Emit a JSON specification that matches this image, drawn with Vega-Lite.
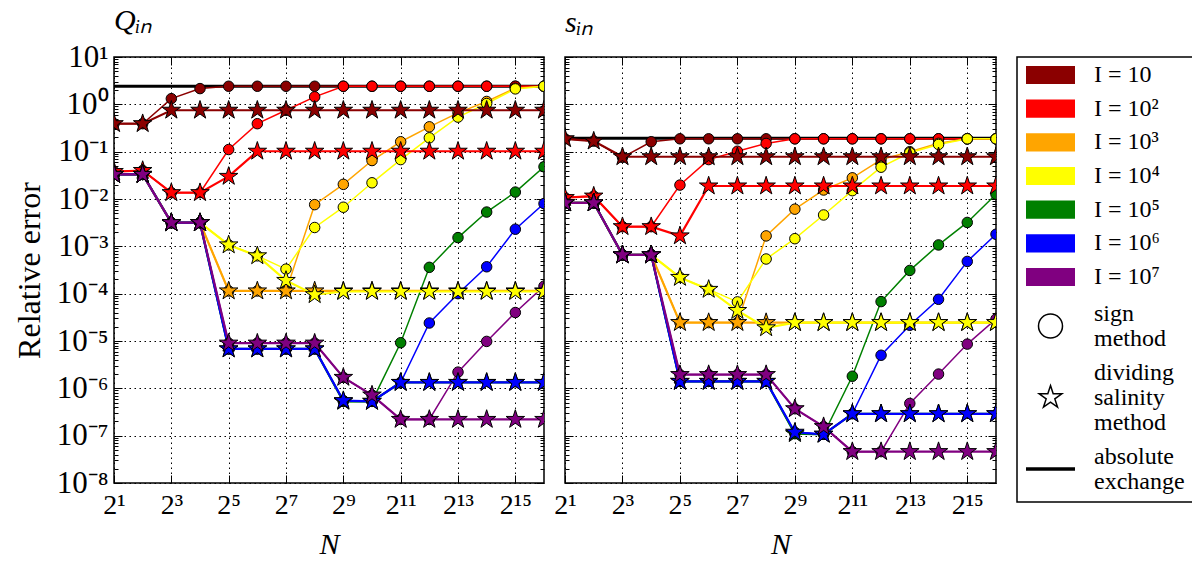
{
  "$schema": "https://vega.github.io/schema/vega-lite/v6.json",
  "padding": {"left": 12, "top": 5, "right": 0, "bottom": 5},
  "bounds": "flush",
  "spacing": 21,
  "resolve": {"scale": {"shape": "independent", "size": "independent", "strokeWidth": "independent"}},
  "config": {
    "font": "Liberation Serif",
    "view": {"stroke": "black", "strokeWidth": 1.5},
    "axis": {"labelFont": "Liberation Serif", "titleFont": "Liberation Serif", "labelColor": "black", "titleColor": "black", "titleFontWeight": "normal"}
  },
  "datasets": {
    "absx": [{"panel": "Q", "err": 2.41}, {"panel": "s", "err": 0.193}],
    "legend": [
      {"item": "I1", "label": "I = 10", "kind": "color"},
      {"item": "I2", "label": "I = 10²", "kind": "color"},
      {"item": "I3", "label": "I = 10³", "kind": "color"},
      {"item": "I4", "label": "I = 10⁴", "kind": "color"},
      {"item": "I5", "label": "I = 10⁵", "kind": "color"},
      {"item": "I6", "label": "I = 10⁶", "kind": "color"},
      {"item": "I7", "label": "I = 10⁷", "kind": "color"},
      {"item": "sign", "label": "sign\nmethod", "kind": "shape", "lines": 2},
      {"item": "dividing", "label": "dividing\nsalinity\nmethod", "kind": "shape", "lines": 3},
      {"item": "absx", "label": "absolute\nexchange", "kind": "line", "lines": 2}
    ],
    "err": [
      {"panel":"Q","method":"sign","N":2,"I1":0.39,"I2":0.038,"I3":0.033,"I4":0.033,"I5":0.033,"I6":0.033,"I7":0.033},
      {"panel":"Q","method":"sign","N":4,"I1":0.39,"I2":0.04,"I3":0.033,"I4":0.033,"I5":0.033,"I6":0.033,"I7":0.033},
      {"panel":"Q","method":"sign","N":8,"I1":1.32,"I2":0.0136,"I3":0.00316,"I4":0.00316,"I5":0.00316,"I6":0.00316,"I7":0.00316},
      {"panel":"Q","method":"sign","N":16,"I1":2.15,"I2":0.0136,"I3":0.00316,"I4":0.00316,"I5":0.00316,"I6":0.00316,"I7":0.00316},
      {"panel":"Q","method":"sign","N":32,"I1":2.41,"I2":0.111,"I3":0.000114,"I4":0.00107,"I5":6.8e-6,"I6":6.8e-6,"I7":9.0e-6},
      {"panel":"Q","method":"sign","N":64,"I1":2.41,"I2":0.39,"I3":0.000114,"I4":0.00063,"I5":6.8e-6,"I6":6.8e-6,"I7":9.0e-6},
      {"panel":"Q","method":"sign","N":128,"I1":2.41,"I2":0.75,"I3":0.000114,"I4":0.00033,"I5":6.8e-6,"I6":6.8e-6,"I7":9.0e-6},
      {"panel":"Q","method":"sign","N":256,"I1":2.41,"I2":1.44,"I3":0.0076,"I4":0.0025,"I5":6.8e-6,"I6":6.8e-6,"I7":9.0e-6},
      {"panel":"Q","method":"sign","N":512,"I1":2.41,"I2":2.41,"I3":0.0204,"I4":0.0067,"I5":5.3e-7,"I6":5.5e-7,"I7":1.7e-6},
      {"panel":"Q","method":"sign","N":1024,"I1":2.41,"I2":2.41,"I3":0.065,"I4":0.022,"I5":5.3e-7,"I6":5.3e-7,"I7":7.2e-7},
      {"panel":"Q","method":"sign","N":2048,"I1":2.41,"I2":2.41,"I3":0.162,"I4":0.068,"I5":9.2e-6,"I6":1.33e-6,"I7":2.2e-7},
      {"panel":"Q","method":"sign","N":4096,"I1":2.41,"I2":2.41,"I3":0.335,"I4":0.196,"I5":3.6e-4,"I6":2.4e-5,"I7":2.2e-7},
      {"panel":"Q","method":"sign","N":8192,"I1":2.41,"I2":2.41,"I3":0.66,"I4":0.537,"I5":1.53e-3,"I6":1.0e-4,"I7":2.2e-6},
      {"panel":"Q","method":"sign","N":16384,"I1":2.41,"I2":2.41,"I3":1.15,"I4":1.04,"I5":5.3e-3,"I6":3.7e-4,"I7":9.8e-6},
      {"panel":"Q","method":"sign","N":32768,"I1":2.41,"I2":2.41,"I3":2.2,"I4":2.12,"I5":0.014,"I6":2.3e-3,"I7":4.0e-5},
      {"panel":"Q","method":"sign","N":65536,"I1":2.41,"I2":2.41,"I3":2.41,"I4":2.41,"I5":0.048,"I6":8.0e-3,"I7":1.44e-4},
      {"panel":"Q","method":"dividing","N":2,"I1":0.39,"I2":0.038,"I3":0.033,"I4":0.033,"I5":0.033,"I6":0.033,"I7":0.033},
      {"panel":"Q","method":"dividing","N":4,"I1":0.39,"I2":0.04,"I3":0.033,"I4":0.033,"I5":0.033,"I6":0.033,"I7":0.033},
      {"panel":"Q","method":"dividing","N":8,"I1":0.75,"I2":0.0136,"I3":0.00316,"I4":0.00316,"I5":0.00316,"I6":0.00316,"I7":0.00316},
      {"panel":"Q","method":"dividing","N":16,"I1":0.75,"I2":0.0136,"I3":0.00316,"I4":0.00316,"I5":0.00316,"I6":0.00316,"I7":0.00316},
      {"panel":"Q","method":"dividing","N":32,"I1":0.75,"I2":0.03,"I3":0.000114,"I4":0.00107,"I5":6.8e-6,"I6":6.8e-6,"I7":9.0e-6},
      {"panel":"Q","method":"dividing","N":64,"I1":0.75,"I2":0.102,"I3":0.000114,"I4":0.00063,"I5":6.8e-6,"I6":6.8e-6,"I7":9.0e-6},
      {"panel":"Q","method":"dividing","N":128,"I1":0.75,"I2":0.102,"I3":0.000114,"I4":0.00019,"I5":6.8e-6,"I6":6.8e-6,"I7":9.0e-6},
      {"panel":"Q","method":"dividing","N":256,"I1":0.75,"I2":0.102,"I3":0.000114,"I4":0.000095,"I5":6.8e-6,"I6":6.8e-6,"I7":9.0e-6},
      {"panel":"Q","method":"dividing","N":512,"I1":0.75,"I2":0.102,"I3":0.000114,"I4":0.000111,"I5":5.3e-7,"I6":5.5e-7,"I7":1.7e-6},
      {"panel":"Q","method":"dividing","N":1024,"I1":0.75,"I2":0.102,"I3":0.000114,"I4":0.000111,"I5":5.3e-7,"I6":5.3e-7,"I7":7.2e-7},
      {"panel":"Q","method":"dividing","N":2048,"I1":0.75,"I2":0.102,"I3":0.000114,"I4":0.000111,"I5":1.33e-6,"I6":1.33e-6,"I7":2.2e-7},
      {"panel":"Q","method":"dividing","N":4096,"I1":0.75,"I2":0.102,"I3":0.000114,"I4":0.000111,"I5":1.33e-6,"I6":1.33e-6,"I7":2.2e-7},
      {"panel":"Q","method":"dividing","N":8192,"I1":0.75,"I2":0.102,"I3":0.000114,"I4":0.000111,"I5":1.33e-6,"I6":1.33e-6,"I7":2.2e-7},
      {"panel":"Q","method":"dividing","N":16384,"I1":0.75,"I2":0.102,"I3":0.000114,"I4":0.000111,"I5":1.33e-6,"I6":1.33e-6,"I7":2.2e-7},
      {"panel":"Q","method":"dividing","N":32768,"I1":0.75,"I2":0.102,"I3":0.000114,"I4":0.000111,"I5":1.33e-6,"I6":1.33e-6,"I7":2.2e-7},
      {"panel":"Q","method":"dividing","N":65536,"I1":0.75,"I2":0.102,"I3":0.000114,"I4":0.000111,"I5":1.33e-6,"I6":1.33e-6,"I7":2.2e-7},
      {"panel":"s","method":"sign","N":2,"I1":0.187,"I2":0.0107,"I3":0.0083,"I4":0.0083,"I5":0.0083,"I6":0.0083,"I7":0.0083},
      {"panel":"s","method":"sign","N":4,"I1":0.167,"I2":0.0115,"I3":0.0083,"I4":0.0083,"I5":0.0083,"I6":0.0083,"I7":0.0083},
      {"panel":"s","method":"sign","N":8,"I1":0.076,"I2":0.0026,"I3":0.00066,"I4":0.00066,"I5":0.00066,"I6":0.00066,"I7":0.00066},
      {"panel":"s","method":"sign","N":16,"I1":0.162,"I2":0.0026,"I3":0.00066,"I4":0.00066,"I5":0.00066,"I6":0.00066,"I7":0.00066},
      {"panel":"s","method":"sign","N":32,"I1":0.187,"I2":0.0197,"I3":2.45e-5,"I4":0.00022,"I5":1.4e-6,"I6":1.4e-6,"I7":1.95e-6},
      {"panel":"s","method":"sign","N":64,"I1":0.187,"I2":0.068,"I3":2.45e-5,"I4":0.000123,"I5":1.4e-6,"I6":1.4e-6,"I7":1.95e-6},
      {"panel":"s","method":"sign","N":128,"I1":0.187,"I2":0.102,"I3":2.45e-5,"I4":6.7e-5,"I5":1.4e-6,"I6":1.4e-6,"I7":1.95e-6},
      {"panel":"s","method":"sign","N":256,"I1":0.187,"I2":0.149,"I3":0.00166,"I4":0.00054,"I5":1.4e-6,"I6":1.4e-6,"I7":1.95e-6},
      {"panel":"s","method":"sign","N":512,"I1":0.187,"I2":0.187,"I3":0.0061,"I4":0.00145,"I5":1.1e-7,"I6":1.18e-7,"I7":3.7e-7},
      {"panel":"s","method":"sign","N":1024,"I1":0.187,"I2":0.187,"I3":0.0155,"I4":0.0046,"I5":1.07e-7,"I6":1.07e-7,"I7":1.55e-7},
      {"panel":"s","method":"sign","N":2048,"I1":0.187,"I2":0.187,"I3":0.028,"I4":0.015,"I5":1.8e-6,"I6":2.9e-7,"I7":4.6e-8},
      {"panel":"s","method":"sign","N":4096,"I1":0.187,"I2":0.187,"I3":0.068,"I4":0.047,"I5":6.8e-5,"I6":5.0e-6,"I7":4.6e-8},
      {"panel":"s","method":"sign","N":8192,"I1":0.187,"I2":0.187,"I3":0.1,"I4":0.095,"I5":3.1e-4,"I6":2.15e-5,"I7":4.8e-7},
      {"panel":"s","method":"sign","N":16384,"I1":0.187,"I2":0.187,"I3":0.15,"I4":0.142,"I5":1.07e-3,"I6":7.6e-5,"I7":2.0e-6},
      {"panel":"s","method":"sign","N":32768,"I1":0.187,"I2":0.187,"I3":0.187,"I4":0.187,"I5":3.2e-3,"I6":4.8e-4,"I7":8.6e-6},
      {"panel":"s","method":"sign","N":65536,"I1":0.187,"I2":0.187,"I3":0.187,"I4":0.187,"I5":0.0126,"I6":1.8e-3,"I7":2.9e-5},
      {"panel":"s","method":"dividing","N":2,"I1":0.187,"I2":0.0107,"I3":0.0083,"I4":0.0083,"I5":0.0083,"I6":0.0083,"I7":0.0083},
      {"panel":"s","method":"dividing","N":4,"I1":0.167,"I2":0.0115,"I3":0.0083,"I4":0.0083,"I5":0.0083,"I6":0.0083,"I7":0.0083},
      {"panel":"s","method":"dividing","N":8,"I1":0.078,"I2":0.0026,"I3":0.00066,"I4":0.00066,"I5":0.00066,"I6":0.00066,"I7":0.00066},
      {"panel":"s","method":"dividing","N":16,"I1":0.078,"I2":0.0026,"I3":0.00066,"I4":0.00066,"I5":0.00066,"I6":0.00066,"I7":0.00066},
      {"panel":"s","method":"dividing","N":32,"I1":0.078,"I2":0.00166,"I3":2.45e-5,"I4":0.00022,"I5":1.4e-6,"I6":1.4e-6,"I7":1.95e-6},
      {"panel":"s","method":"dividing","N":64,"I1":0.078,"I2":0.0188,"I3":2.45e-5,"I4":0.000123,"I5":1.4e-6,"I6":1.4e-6,"I7":1.95e-6},
      {"panel":"s","method":"dividing","N":128,"I1":0.078,"I2":0.0188,"I3":2.45e-5,"I4":4.4e-5,"I5":1.4e-6,"I6":1.4e-6,"I7":1.95e-6},
      {"panel":"s","method":"dividing","N":256,"I1":0.078,"I2":0.0188,"I3":2.45e-5,"I4":1.9e-5,"I5":1.4e-6,"I6":1.4e-6,"I7":1.95e-6},
      {"panel":"s","method":"dividing","N":512,"I1":0.078,"I2":0.0188,"I3":2.45e-5,"I4":2.45e-5,"I5":1.1e-7,"I6":1.18e-7,"I7":3.7e-7},
      {"panel":"s","method":"dividing","N":1024,"I1":0.078,"I2":0.0188,"I3":2.45e-5,"I4":2.45e-5,"I5":1.07e-7,"I6":1.07e-7,"I7":1.55e-7},
      {"panel":"s","method":"dividing","N":2048,"I1":0.078,"I2":0.0188,"I3":2.45e-5,"I4":2.45e-5,"I5":2.9e-7,"I6":2.9e-7,"I7":4.6e-8},
      {"panel":"s","method":"dividing","N":4096,"I1":0.078,"I2":0.0188,"I3":2.45e-5,"I4":2.45e-5,"I5":2.9e-7,"I6":2.9e-7,"I7":4.6e-8},
      {"panel":"s","method":"dividing","N":8192,"I1":0.078,"I2":0.0188,"I3":2.45e-5,"I4":2.45e-5,"I5":2.9e-7,"I6":2.9e-7,"I7":4.6e-8},
      {"panel":"s","method":"dividing","N":16384,"I1":0.078,"I2":0.0188,"I3":2.45e-5,"I4":2.45e-5,"I5":2.9e-7,"I6":2.9e-7,"I7":4.6e-8},
      {"panel":"s","method":"dividing","N":32768,"I1":0.078,"I2":0.0188,"I3":2.45e-5,"I4":2.45e-5,"I5":2.9e-7,"I6":2.9e-7,"I7":4.6e-8},
      {"panel":"s","method":"dividing","N":65536,"I1":0.078,"I2":0.0188,"I3":2.45e-5,"I4":2.45e-5,"I5":2.9e-7,"I6":2.9e-7,"I7":4.6e-8}
    ]
  },
  "hconcat": [
    {
      "width": 430,
      "height": 426,
      "title": {"text": "Qᵢₙ", "anchor": "start", "frame": "group", "fontSize": 30, "fontStyle": "italic", "fontWeight": "normal", "baseline": "alphabetic", "offset": -19, "font": "Liberation Serif", "color": "black"},
      "layer": [
        {
          "data": {"name": "absx"},
          "transform": [{"filter": "datum.panel === 'Q'"}],
          "mark": {"type": "rule", "color": "black", "strokeWidth": 3, "clip": true},
          "encoding": {
            "y": {"field": "err", "type": "quantitative", "scale": {"type": "log", "domain": [1e-8, 10], "nice": false},
              "axis": {"orient": "left", "offset": 0, "values": [1e-8, 1e-7, 1e-6, 1e-5, 1e-4, 1e-3, 0.01, 0.1, 1, 10], "grid": true, "gridDash": [1.5, 3.5], "gridColor": "black", "gridWidth": 1, "ticks": false, "domain": false, "labelOverlap": false, "labelFontSize": 31, "labelPadding": 6,
                "labelExpr": "['10⁻⁸','10⁻⁷','10⁻⁶','10⁻⁵','10⁻⁴','10⁻³','10⁻²','10⁻¹','10⁰','10¹'][round(log(datum.value)/LN10)+8]",
                "title": "Relative error", "titleFontSize": 32, "titlePadding": 10}}
          }
        },
        {
          "data": {"name": "err"},
          "transform": [{"filter": "datum.panel === 'Q'"}, {"fold": ["I1", "I2", "I3", "I4", "I5", "I6", "I7"], "as": ["I", "err"]}],
          "mark": {"type": "line", "clip": true},
          "encoding": {
            "x": {"field": "N", "type": "quantitative", "scale": {"type": "log", "base": 2, "domain": [2, 65536], "nice": false},
              "axis": {"orient": "bottom", "offset": 0, "values": [2, 8, 32, 128, 512, 2048, 8192, 32768], "grid": true, "gridDash": [1.5, 3.5], "gridColor": "black", "gridWidth": 1, "ticks": false, "domain": false, "labelFlush": false, "labelOverlap": false, "labelFontSize": 28, "labelPadding": 8,
                "labelExpr": "['2¹','2²','2³','2⁴','2⁵','2⁶','2⁷','2⁸','2⁹','2¹⁰','2¹¹','2¹²','2¹³','2¹⁴','2¹⁵','2¹⁶'][round(log(datum.value)/LN2)-1]",
                "title": "N", "titleFontSize": 30, "titleFontStyle": "italic", "titlePadding": 10}},
            "y": {"field": "err", "type": "quantitative", "scale": {"type": "log", "domain": [1e-8, 10], "nice": false}, "axis": null},
            "color": {"field": "I", "type": "nominal", "scale": {"domain": ["I1", "I2", "I3", "I4", "I5", "I6", "I7"], "range": ["#8b0000", "#ff0000", "#ffa500", "#ffff00", "#008000", "#0000ff", "#800080"]}, "legend": null},
            "detail": {"field": "method", "type": "nominal"},
            "strokeWidth": {"field": "method", "type": "nominal", "scale": {"domain": ["dividing", "sign"], "range": [2.2, 1.5]}, "legend": null}
          }
        },
        {
          "data": {"name": "err"},
          "transform": [{"filter": "datum.panel === 'Q'"}, {"fold": ["I1", "I2", "I3", "I4", "I5", "I6", "I7"], "as": ["I", "err"]}],
          "mark": {"type": "point", "filled": true, "stroke": "black", "strokeWidth": 1, "opacity": 1, "clip": true},
          "encoding": {
            "x": {"field": "N", "type": "quantitative", "scale": {"type": "log", "base": 2, "domain": [2, 65536], "nice": false}, "axis": null},
            "y": {"field": "err", "type": "quantitative", "scale": {"type": "log", "domain": [1e-8, 10], "nice": false}, "axis": null},
            "color": {"field": "I", "type": "nominal", "scale": {"domain": ["I1", "I2", "I3", "I4", "I5", "I6", "I7"], "range": ["#8b0000", "#ff0000", "#ffa500", "#ffff00", "#008000", "#0000ff", "#800080"]}, "legend": null},
            "shape": {"field": "method", "type": "nominal", "scale": {"domain": ["dividing", "sign"], "range": ["M0,-1L0.2245,-0.309L0.9511,-0.309L0.3633,0.118L0.5878,0.809L0,0.382L-0.5878,0.809L-0.3633,0.118L-0.9511,-0.309L-0.2245,-0.309Z", "circle"]}, "legend": null},
            "size": {"field": "method", "type": "nominal", "scale": {"domain": ["dividing", "sign"], "range": [380, 110]}, "legend": null},
            "order": [{"field": "I", "type": "nominal", "sort": "ascending"}, {"field": "method", "type": "nominal", "sort": "descending"}]
          }
        },
        {
          "data": {"name": "err"},
          "transform": [{"filter": "datum.panel === 'Q'"}, {"fold": ["I1"], "as": ["I", "err"]}],
          "mark": {"type": "point", "opacity": 0},
          "encoding": {
            "x": {"field": "N", "type": "quantitative", "scale": {"type": "log", "base": 2, "domain": [2, 65536], "nice": false},
              "axis": {"orient": "bottom", "offset": 0, "minExtent": 0, "values": [2, 8, 32, 128, 512, 2048, 8192, 32768], "labels": false, "grid": false, "domain": false, "ticks": true, "tickSize": -8, "tickColor": "black", "tickWidth": 1, "title": null}},
            "y": {"field": "err", "type": "quantitative", "scale": {"type": "log", "domain": [1e-8, 10], "nice": false},
              "axis": {"orient": "left", "offset": 0, "minExtent": 0, "values": [1e-8,2e-8,3e-8,4e-8,5e-8,6e-8,7e-8,8e-8,9e-8,1e-7,2e-7,3e-7,4e-7,5e-7,6e-7,7e-7,8e-7,9e-7,1e-6,2e-6,3e-6,4e-6,5e-6,6e-6,7e-6,8e-6,9e-6,1e-5,2e-5,3e-5,4e-5,5e-5,6e-5,7e-5,8e-5,9e-5,1e-4,2e-4,3e-4,4e-4,5e-4,6e-4,7e-4,8e-4,9e-4,1e-3,2e-3,3e-3,4e-3,5e-3,6e-3,7e-3,8e-3,9e-3,0.01,0.02,0.03,0.04,0.05,0.06,0.07,0.08,0.09,0.1,0.2,0.3,0.4,0.5,0.6,0.7,0.8,0.9,1,2,3,4,5,6,7,8,9,10], "labels": false, "grid": false, "domain": false, "ticks": true, "tickColor": "black", "tickWidth": 1, "title": null,
                "tickSize": {"condition": {"test": "abs(log(datum.value)/LN10 - round(log(datum.value)/LN10)) < 0.001", "value": -8}, "value": -4}}}
          }
        },
        {
          "data": {"name": "err"},
          "transform": [{"filter": "datum.panel === 'Q'"}, {"fold": ["I1"], "as": ["I", "err"]}],
          "mark": {"type": "point", "opacity": 0},
          "encoding": {
            "x": {"field": "N", "type": "quantitative", "scale": {"type": "log", "base": 2, "domain": [2, 65536], "nice": false},
              "axis": {"orient": "top", "offset": 0, "minExtent": 0, "values": [2, 8, 32, 128, 512, 2048, 8192, 32768], "labels": false, "grid": false, "domain": false, "ticks": true, "tickSize": -8, "tickColor": "black", "tickWidth": 1, "title": null}},
            "y": {"field": "err", "type": "quantitative", "scale": {"type": "log", "domain": [1e-8, 10], "nice": false},
              "axis": {"orient": "right", "offset": 0, "minExtent": 0, "values": [1e-8,2e-8,3e-8,4e-8,5e-8,6e-8,7e-8,8e-8,9e-8,1e-7,2e-7,3e-7,4e-7,5e-7,6e-7,7e-7,8e-7,9e-7,1e-6,2e-6,3e-6,4e-6,5e-6,6e-6,7e-6,8e-6,9e-6,1e-5,2e-5,3e-5,4e-5,5e-5,6e-5,7e-5,8e-5,9e-5,1e-4,2e-4,3e-4,4e-4,5e-4,6e-4,7e-4,8e-4,9e-4,1e-3,2e-3,3e-3,4e-3,5e-3,6e-3,7e-3,8e-3,9e-3,0.01,0.02,0.03,0.04,0.05,0.06,0.07,0.08,0.09,0.1,0.2,0.3,0.4,0.5,0.6,0.7,0.8,0.9,1,2,3,4,5,6,7,8,9,10], "labels": false, "grid": false, "domain": false, "ticks": true, "tickColor": "black", "tickWidth": 1, "title": null,
                "tickSize": {"condition": {"test": "abs(log(datum.value)/LN10 - round(log(datum.value)/LN10)) < 0.001", "value": -8}, "value": -4}}}
          }
        }
      ],
      "resolve": {"axis": {"x": "independent", "y": "independent"}, "scale": {"x": "shared", "y": "shared"}}
    },
    {
      "width": 431,
      "height": 426,
      "title": {"text": "sᵢₙ", "anchor": "start", "frame": "group", "fontSize": 30, "fontStyle": "italic", "fontWeight": "normal", "baseline": "alphabetic", "offset": -5, "font": "Liberation Serif", "color": "black"},
      "layer": [
        {
          "data": {"name": "absx"},
          "transform": [{"filter": "datum.panel === 's'"}],
          "mark": {"type": "rule", "color": "black", "strokeWidth": 3, "clip": true},
          "encoding": {
            "y": {"field": "err", "type": "quantitative", "scale": {"type": "log", "domain": [1e-8, 10], "nice": false},
              "axis": {"orient": "left", "offset": 0, "minExtent": 0, "values": [1e-8, 1e-7, 1e-6, 1e-5, 1e-4, 1e-3, 0.01, 0.1, 1, 10], "grid": true, "gridDash": [1.5, 3.5], "gridColor": "black", "gridWidth": 1, "ticks": false, "domain": false, "labels": false, "title": null}}
          }
        },
        {
          "data": {"name": "err"},
          "transform": [{"filter": "datum.panel === 's'"}, {"fold": ["I1", "I2", "I3", "I4", "I5", "I6", "I7"], "as": ["I", "err"]}],
          "mark": {"type": "line", "clip": true},
          "encoding": {
            "x": {"field": "N", "type": "quantitative", "scale": {"type": "log", "base": 2, "domain": [2, 65536], "nice": false},
              "axis": {"orient": "bottom", "offset": 0, "values": [2, 8, 32, 128, 512, 2048, 8192, 32768], "grid": true, "gridDash": [1.5, 3.5], "gridColor": "black", "gridWidth": 1, "ticks": false, "domain": false, "labelFlush": false, "labelOverlap": false, "labelFontSize": 28, "labelPadding": 8,
                "labelExpr": "['2¹','2²','2³','2⁴','2⁵','2⁶','2⁷','2⁸','2⁹','2¹⁰','2¹¹','2¹²','2¹³','2¹⁴','2¹⁵','2¹⁶'][round(log(datum.value)/LN2)-1]",
                "title": "N", "titleFontSize": 30, "titleFontStyle": "italic", "titlePadding": 10}},
            "y": {"field": "err", "type": "quantitative", "scale": {"type": "log", "domain": [1e-8, 10], "nice": false}, "axis": null},
            "color": {"field": "I", "type": "nominal", "scale": {"domain": ["I1", "I2", "I3", "I4", "I5", "I6", "I7"], "range": ["#8b0000", "#ff0000", "#ffa500", "#ffff00", "#008000", "#0000ff", "#800080"]}, "legend": null},
            "detail": {"field": "method", "type": "nominal"},
            "strokeWidth": {"field": "method", "type": "nominal", "scale": {"domain": ["dividing", "sign"], "range": [2.2, 1.5]}, "legend": null}
          }
        },
        {
          "data": {"name": "err"},
          "transform": [{"filter": "datum.panel === 's'"}, {"fold": ["I1", "I2", "I3", "I4", "I5", "I6", "I7"], "as": ["I", "err"]}],
          "mark": {"type": "point", "filled": true, "stroke": "black", "strokeWidth": 1, "opacity": 1, "clip": true},
          "encoding": {
            "x": {"field": "N", "type": "quantitative", "scale": {"type": "log", "base": 2, "domain": [2, 65536], "nice": false}, "axis": null},
            "y": {"field": "err", "type": "quantitative", "scale": {"type": "log", "domain": [1e-8, 10], "nice": false}, "axis": null},
            "color": {"field": "I", "type": "nominal", "scale": {"domain": ["I1", "I2", "I3", "I4", "I5", "I6", "I7"], "range": ["#8b0000", "#ff0000", "#ffa500", "#ffff00", "#008000", "#0000ff", "#800080"]}, "legend": null},
            "shape": {"field": "method", "type": "nominal", "scale": {"domain": ["dividing", "sign"], "range": ["M0,-1L0.2245,-0.309L0.9511,-0.309L0.3633,0.118L0.5878,0.809L0,0.382L-0.5878,0.809L-0.3633,0.118L-0.9511,-0.309L-0.2245,-0.309Z", "circle"]}, "legend": null},
            "size": {"field": "method", "type": "nominal", "scale": {"domain": ["dividing", "sign"], "range": [380, 110]}, "legend": null},
            "order": [{"field": "I", "type": "nominal", "sort": "ascending"}, {"field": "method", "type": "nominal", "sort": "descending"}]
          }
        },
        {
          "data": {"name": "err"},
          "transform": [{"filter": "datum.panel === 's'"}, {"fold": ["I1"], "as": ["I", "err"]}],
          "mark": {"type": "point", "opacity": 0},
          "encoding": {
            "x": {"field": "N", "type": "quantitative", "scale": {"type": "log", "base": 2, "domain": [2, 65536], "nice": false},
              "axis": {"orient": "bottom", "offset": 0, "minExtent": 0, "values": [2, 8, 32, 128, 512, 2048, 8192, 32768], "labels": false, "grid": false, "domain": false, "ticks": true, "tickSize": -8, "tickColor": "black", "tickWidth": 1, "title": null}},
            "y": {"field": "err", "type": "quantitative", "scale": {"type": "log", "domain": [1e-8, 10], "nice": false},
              "axis": {"orient": "left", "offset": 0, "minExtent": 0, "values": [1e-8,2e-8,3e-8,4e-8,5e-8,6e-8,7e-8,8e-8,9e-8,1e-7,2e-7,3e-7,4e-7,5e-7,6e-7,7e-7,8e-7,9e-7,1e-6,2e-6,3e-6,4e-6,5e-6,6e-6,7e-6,8e-6,9e-6,1e-5,2e-5,3e-5,4e-5,5e-5,6e-5,7e-5,8e-5,9e-5,1e-4,2e-4,3e-4,4e-4,5e-4,6e-4,7e-4,8e-4,9e-4,1e-3,2e-3,3e-3,4e-3,5e-3,6e-3,7e-3,8e-3,9e-3,0.01,0.02,0.03,0.04,0.05,0.06,0.07,0.08,0.09,0.1,0.2,0.3,0.4,0.5,0.6,0.7,0.8,0.9,1,2,3,4,5,6,7,8,9,10], "labels": false, "grid": false, "domain": false, "ticks": true, "tickColor": "black", "tickWidth": 1, "title": null,
                "tickSize": {"condition": {"test": "abs(log(datum.value)/LN10 - round(log(datum.value)/LN10)) < 0.001", "value": -8}, "value": -4}}}
          }
        },
        {
          "data": {"name": "err"},
          "transform": [{"filter": "datum.panel === 's'"}, {"fold": ["I1"], "as": ["I", "err"]}],
          "mark": {"type": "point", "opacity": 0},
          "encoding": {
            "x": {"field": "N", "type": "quantitative", "scale": {"type": "log", "base": 2, "domain": [2, 65536], "nice": false},
              "axis": {"orient": "top", "offset": 0, "minExtent": 0, "values": [2, 8, 32, 128, 512, 2048, 8192, 32768], "labels": false, "grid": false, "domain": false, "ticks": true, "tickSize": -8, "tickColor": "black", "tickWidth": 1, "title": null}},
            "y": {"field": "err", "type": "quantitative", "scale": {"type": "log", "domain": [1e-8, 10], "nice": false},
              "axis": {"orient": "right", "offset": 0, "minExtent": 0, "values": [1e-8,2e-8,3e-8,4e-8,5e-8,6e-8,7e-8,8e-8,9e-8,1e-7,2e-7,3e-7,4e-7,5e-7,6e-7,7e-7,8e-7,9e-7,1e-6,2e-6,3e-6,4e-6,5e-6,6e-6,7e-6,8e-6,9e-6,1e-5,2e-5,3e-5,4e-5,5e-5,6e-5,7e-5,8e-5,9e-5,1e-4,2e-4,3e-4,4e-4,5e-4,6e-4,7e-4,8e-4,9e-4,1e-3,2e-3,3e-3,4e-3,5e-3,6e-3,7e-3,8e-3,9e-3,0.01,0.02,0.03,0.04,0.05,0.06,0.07,0.08,0.09,0.1,0.2,0.3,0.4,0.5,0.6,0.7,0.8,0.9,1,2,3,4,5,6,7,8,9,10], "labels": false, "grid": false, "domain": false, "ticks": true, "tickColor": "black", "tickWidth": 1, "title": null,
                "tickSize": {"condition": {"test": "abs(log(datum.value)/LN10 - round(log(datum.value)/LN10)) < 0.001", "value": -8}, "value": -4}}}
          }
        }
      ],
      "resolve": {"axis": {"x": "independent", "y": "independent"}, "scale": {"x": "shared", "y": "shared"}}
    },
    {
      "width": 176,
      "height": 445,
      "data": {"name": "legend"},
      "layer": [
        {
          "transform": [{"filter": "datum.kind === 'color'"}],
          "encoding": {
            "y": {"field": "item", "type": "nominal", "scale": {"type": "point", "domain": ["I1", "I2", "I3", "I4", "I5", "I6", "I7"], "range": [18, 220], "padding": 0}, "axis": null}
          },
          "layer": [
            {
              "mark": {"type": "point", "shape": "M-1,-0.37H1V0.37H-1Z", "size": 2401, "filled": true, "opacity": 1, "strokeWidth": 0},
              "encoding": {
                "x": {"datum": "symbol", "type": "nominal", "scale": {"type": "point", "domain": ["symbol", "text"], "range": [33.5, 77], "padding": 0}, "axis": null},
                "color": {"field": "item", "type": "nominal", "scale": {"domain": ["I1", "I2", "I3", "I4", "I5", "I6", "I7"], "range": ["#8b0000", "#ff0000", "#ffa500", "#ffff00", "#008000", "#0000ff", "#800080"]}, "legend": null}
              }
            },
            {
              "mark": {"type": "text", "align": "left", "baseline": "middle", "fontSize": 24, "font": "Liberation Serif", "color": "black"},
              "encoding": {
                "x": {"datum": "text", "type": "nominal", "scale": {"type": "point", "domain": ["symbol", "text"], "range": [33.5, 77], "padding": 0}, "axis": null},
                "text": {"field": "label", "type": "nominal"}
              }
            }
          ]
        },
        {
          "transform": [{"filter": "datum.kind !== 'color'"}],
          "encoding": {
            "y": {"field": "item", "type": "nominal", "scale": {"type": "point", "domain": ["sign", "dividing", "absx"], "range": [269, 412], "padding": 0}, "axis": null},
            "x": {"datum": "symbol", "type": "nominal", "scale": {"type": "point", "domain": ["symbol", "text"], "range": [33.5, 77], "padding": 0}, "axis": null}
          },
          "layer": [
            {
              "transform": [{"filter": "datum.item === 'sign'"}],
              "mark": {"type": "point", "shape": "circle", "size": 576, "filled": false, "stroke": "black", "strokeWidth": 1.5, "opacity": 1}
            },
            {
              "transform": [{"filter": "datum.item === 'dividing'"}],
              "mark": {"type": "point", "shape": "M0,-1L0.2245,-0.309L0.9511,-0.309L0.3633,0.118L0.5878,0.809L0,0.382L-0.5878,0.809L-0.3633,0.118L-0.9511,-0.309L-0.2245,-0.309Z", "size": 570, "filled": false, "stroke": "black", "strokeWidth": 1.5, "opacity": 1}
            },
            {
              "transform": [{"filter": "datum.item === 'absx'"}],
              "mark": {"type": "point", "shape": "M-1,0H1", "size": 2401, "filled": false, "stroke": "black", "strokeWidth": 3.5, "opacity": 1}
            },
            {
              "transform": [{"filter": "datum.lines === 2"}],
              "mark": {"type": "text", "align": "left", "baseline": "middle", "fontSize": 24, "font": "Liberation Serif", "color": "black", "lineBreak": "\n", "lineHeight": 25, "dy": -12.5},
              "encoding": {
                "x": {"datum": "text", "type": "nominal", "scale": {"type": "point", "domain": ["symbol", "text"], "range": [33.5, 77], "padding": 0}, "axis": null},
                "text": {"field": "label", "type": "nominal"}
              }
            },
            {
              "transform": [{"filter": "datum.lines === 3"}],
              "mark": {"type": "text", "align": "left", "baseline": "middle", "fontSize": 24, "font": "Liberation Serif", "color": "black", "lineBreak": "\n", "lineHeight": 25, "dy": -25},
              "encoding": {
                "x": {"datum": "text", "type": "nominal", "scale": {"type": "point", "domain": ["symbol", "text"], "range": [33.5, 77], "padding": 0}, "axis": null},
                "text": {"field": "label", "type": "nominal"}
              }
            }
          ]
        }
      ],
      "resolve": {"scale": {"y": "independent"}}
    }
  ]
}
